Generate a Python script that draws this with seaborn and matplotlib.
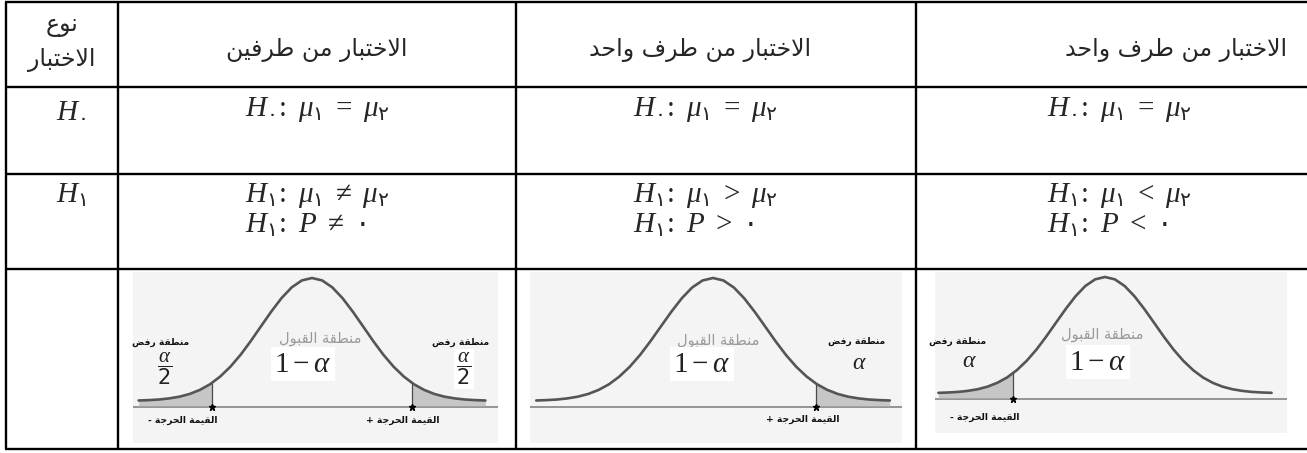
import matplotlib
matplotlib.use('Agg')
import matplotlib.pyplot as plt
import numpy as np
import seaborn as sns

W, H = 1307, 453

# table text (logical Arabic order)
TYPE_HEADER = ['نوع', 'الاختبار']
COL_HEADERS = ['الاختبار من طرفين', 'الاختبار من طرف واحد', 'الاختبار من طرف واحد']
ROW_LABELS = [r'$H_{\mathsf{٠}}$', r'$H_{\mathsf{١}}$']
H0_CELLS = [
    r'$H_{\mathsf{٠}}\!:\ \mu_{\mathsf{١}}\ =\ \mu_{\mathsf{٢}}$',
    r'$H_{\mathsf{٠}}\!:\ \mu_{\mathsf{١}}\ =\ \mu_{\mathsf{٢}}$',
    r'$H_{\mathsf{٠}}\!:\ \mu_{\mathsf{١}}\ =\ \mu_{\mathsf{٢}}$',
]
H1_CELLS = [
    [r'$H_{\mathsf{١}}\!:\ \mu_{\mathsf{١}}\ \neq\ \mu_{\mathsf{٢}}$', r'$H_{\mathsf{١}}\!:\ P\ \neq\ \mathsf{٠}$'],
    [r'$H_{\mathsf{١}}\!:\ \mu_{\mathsf{١}}\ >\ \mu_{\mathsf{٢}}$', r'$H_{\mathsf{١}}\!:\ P\ >\ \mathsf{٠}$'],
    [r'$H_{\mathsf{١}}\!:\ \mu_{\mathsf{١}}\ <\ \mu_{\mathsf{٢}}$', r'$H_{\mathsf{١}}\!:\ P\ <\ \mathsf{٠}$'],
]
REJECT_LABEL = 'منطقة رفض'
ACCEPT_LABEL = 'منطقة القبول'
CRIT_LABEL = 'القيمة الحرجة'

# normal curve heights (peak = 1)
CURVE_X = [-3.4, -3.2, -3.0, -2.8, -2.6, -2.4, -2.2, -2.0, -1.8, -1.6, -1.4, -1.2,
           -1.0, -0.8, -0.6, -0.4, -0.2, 0.0, 0.2, 0.4, 0.6, 0.8, 1.0, 1.2,
           1.4, 1.6, 1.8, 2.0, 2.2, 2.4, 2.6, 2.8, 3.0, 3.2, 3.4]
CURVE_Y = [0.003, 0.006, 0.011, 0.020, 0.034, 0.056, 0.089, 0.135, 0.198, 0.278, 0.375, 0.487,
           0.607, 0.726, 0.835, 0.923, 0.980, 1.000, 0.980, 0.923, 0.835, 0.726, 0.607, 0.487,
           0.375, 0.278, 0.198, 0.135, 0.089, 0.056, 0.034, 0.020, 0.011, 0.006, 0.003]
# critical values per panel
CRIT_VALUES = [[-1.96, 1.96], [1.98], [-1.88]]
BASE_LEVEL = -0.05

# Arabic presentation forms: isolated, final, initial, medial
FORMS = {
    'ا': ('\uFE8D', '\uFE8E', None, None),
    'ب': ('\uFE8F', '\uFE90', '\uFE91', '\uFE92'),
    'ة': ('\uFE93', '\uFE94', None, None),
    'ت': ('\uFE95', '\uFE96', '\uFE97', '\uFE98'),
    'ج': ('\uFE9D', '\uFE9E', '\uFE9F', '\uFEA0'),
    'ح': ('\uFEA1', '\uFEA2', '\uFEA3', '\uFEA4'),
    'خ': ('\uFEA5', '\uFEA6', '\uFEA7', '\uFEA8'),
    'د': ('\uFEA9', '\uFEAA', None, None),
    'ر': ('\uFEAD', '\uFEAE', None, None),
    'ض': ('\uFEBD', '\uFEBE', '\uFEBF', '\uFEC0'),
    'ط': ('\uFEC1', '\uFEC2', '\uFEC3', '\uFEC4'),
    'ع': ('\uFEC9', '\uFECA', '\uFECB', '\uFECC'),
    'ف': ('\uFED1', '\uFED2', '\uFED3', '\uFED4'),
    'ق': ('\uFED5', '\uFED6', '\uFED7', '\uFED8'),
    'ل': ('\uFEDD', '\uFEDE', '\uFEDF', '\uFEE0'),
    'م': ('\uFEE1', '\uFEE2', '\uFEE3', '\uFEE4'),
    'ن': ('\uFEE5', '\uFEE6', '\uFEE7', '\uFEE8'),
    'و': ('\uFEED', '\uFEEE', None, None),
    'ي': ('\uFEF1', '\uFEF2', '\uFEF3', '\uFEF4'),
}


def ar(text):
    # join letters and flip to visual order, matplotlib has no bidi/shaping
    res = []
    prev_joins = False
    i = 0
    while i < len(text):
        c = text[i]
        nxt = text[i + 1] if i + 1 < len(text) else ''
        if c not in FORMS:
            res.append(c)
            prev_joins = False
            i += 1
            continue
        if c == 'ل' and nxt == 'ا':
            res.append('\uFEFC' if prev_joins else '\uFEFB')
            prev_joins = False
            i += 2
            continue
        iso, fin, ini, med = FORMS[c]
        next_joins = ini is not None and nxt in FORMS
        if prev_joins and next_joins:
            g = med
        elif prev_joins:
            g = fin
        elif next_joins:
            g = ini
        else:
            g = iso
        res.append(g)
        prev_joins = next_joins
        i += 1
    return ''.join(reversed(res))


sns.set_theme(style='white')
plt.rcParams['font.family'] = ['DejaVu Sans']
plt.rcParams['mathtext.fontset'] = 'custom'
plt.rcParams['mathtext.it'] = 'Liberation Serif:italic'
plt.rcParams['mathtext.rm'] = 'Liberation Serif'
plt.rcParams['mathtext.sf'] = 'DejaVu Sans'
plt.rcParams['mathtext.fallback'] = 'stix'

fig = plt.figure(figsize=(W / 100, H / 100), dpi=100)
fig.patch.set_facecolor('white')
base = fig.add_axes([0, 0, 1, 1])
base.set_xlim(0, W)
base.set_ylim(H, 0)
base.axis('off')

# table grid
lw = 1.7
for y in [2, 87, 174, 269, 449]:
    base.hlines(y, 5, W, color='black', lw=lw)
for x in [6, 118, 516, 916]:
    base.vlines(x, 2, 449, color='black', lw=lw)

hdr_fs = 17
base.text(62, 25, ar(TYPE_HEADER[0]), ha='center', va='center', fontsize=hdr_fs)
base.text(62, 60, ar(TYPE_HEADER[1]), ha='center', va='center', fontsize=hdr_fs)
for x, s in zip([317, 700, 1176], COL_HEADERS):
    base.text(x, 50, ar(s), ha='center', va='center', fontsize=hdr_fs)

math_fs = 21
base.text(86, 109, ROW_LABELS[0], ha='right', va='center', fontsize=math_fs)
base.text(86, 195, ROW_LABELS[1], ha='right', va='center', fontsize=math_fs)
for x, s in zip([245, 633, 1047], H0_CELLS):
    base.text(x, 109, s, ha='left', va='center', fontsize=math_fs)
for x, (s1, s2) in zip([245, 633, 1047], H1_CELLS):
    base.text(x, 195, s1, ha='left', va='center', fontsize=math_fs)
    base.text(x, 225, s2, ha='left', va='center', fontsize=math_fs)

# curve panels: box (l, t, r, b) px, centre px, sigma px, peak px, baseline px
panels = [
    ((133, 272, 498, 443), 312, 51, 278, 407),
    ((530, 272, 902, 443), 713, 52, 278, 407),
    ((935, 272, 1287, 433), 1105, 49, 277, 399),
]
cx_arr = np.array(CURVE_X)
cy_arr = np.array(CURVE_Y)
for (box, cx, sig, peak, basey), crits in zip(panels, CRIT_VALUES):
    l, t, r, b = box
    ax = fig.add_axes([l / W, 1 - b / H, (r - l) / W, (b - t) / H])
    ax.set_facecolor('#f4f4f4')
    for sp in ax.spines.values():
        sp.set_visible(False)
    ax.set_xticks([])
    ax.set_yticks([])
    unit = (basey - peak) / (1 - BASE_LEVEL)
    ax.set_xlim((l - cx) / sig, (r - cx) / sig)
    ax.set_ylim(BASE_LEVEL - (b - basey) / unit, 1 + (peak - t) / unit)
    ax.axhline(BASE_LEVEL, color='#8c8c8c', lw=1.3, zorder=1)
    for c in crits:
        yc = np.interp(c, cx_arr, cy_arr)
        if c < 0:
            m = cx_arr < c
            xs = np.append(cx_arr[m], c)
            ys = np.append(cy_arr[m], yc)
        else:
            m = cx_arr > c
            xs = np.insert(cx_arr[m], 0, c)
            ys = np.insert(cy_arr[m], 0, yc)
        ax.fill_between(xs, ys, BASE_LEVEL + 0.01, color='#c6c6c6', lw=0, zorder=2)
        ax.vlines(c, BASE_LEVEL, yc, color='#4a4a4a', lw=0.9, zorder=3)
        ax.plot([c], [BASE_LEVEL], marker='*', ms=4.5, color='black', zorder=4)
    sns.lineplot(x=CURVE_X, y=CURVE_Y, ax=ax, color='#555555', lw=1.9, zorder=3,
                 estimator=None, sort=False)


def ftext(x, y, s, **kw):
    fig.text(x / W, 1 - y / H, s, ha='center', va='center', **kw)


rej = ar(REJECT_LABEL)
acc = ar(ACCEPT_LABEL)
crit = ar(CRIT_LABEL)
small = dict(fontsize=6.6, fontweight='bold', color='#111111')
accept_kw = dict(fontsize=10.5, color='#9a9a9a')
one_minus = r'$1-\alpha$'
half = r'$\dfrac{\alpha}{\mathsf{2}}$'
alpha = r'$\alpha$'
white_box = dict(boxstyle='square,pad=0.1', fc='white', ec='none')

# panel 1
ftext(161, 342, rej, **small)
ftext(165, 369, half, fontsize=15, color='#222222')
ftext(461, 342, rej, **small)
ftext(464, 369, half, fontsize=15, color='#222222', bbox=white_box)
ftext(320, 338, acc, **accept_kw)
ftext(303, 364, one_minus, fontsize=21, color='#222222', bbox=white_box)
ftext(183, 420, '- ' + crit, **small)
ftext(403, 420, '+ ' + crit, **small)

# panel 2
ftext(718, 340, acc, **accept_kw)
ftext(702, 364, one_minus, fontsize=21, color='#222222', bbox=white_box)
ftext(857, 341, rej, **small)
ftext(859, 362, alpha, fontsize=17, color='#222222')
ftext(803, 419, '+ ' + crit, **small)

# panel 3
ftext(958, 341, rej, **small)
ftext(969, 360, alpha, fontsize=17, color='#222222')
ftext(1102, 334, acc, **accept_kw)
ftext(1098, 362, one_minus, fontsize=21, color='#222222', bbox=white_box)
ftext(985, 417, '- ' + crit, **small)

fig.savefig('out.png', dpi=100)
